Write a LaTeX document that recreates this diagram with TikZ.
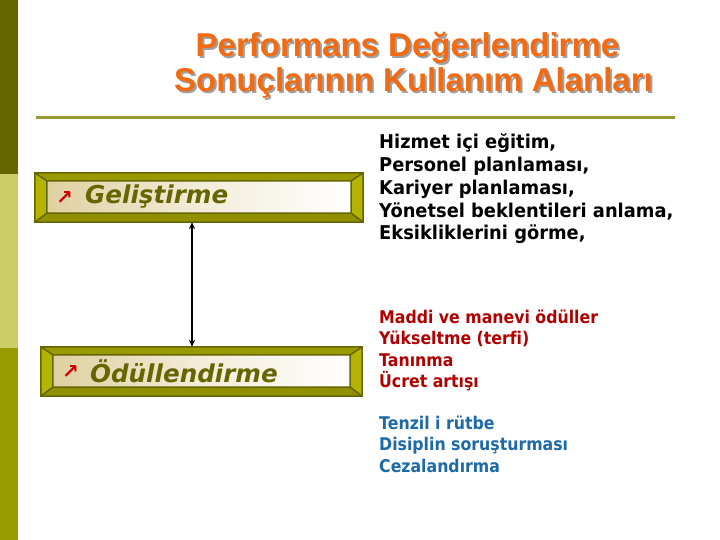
\documentclass[tikz,border=0pt]{standalone}
\usepackage{fontspec}
\usetikzlibrary{arrows.meta}
\setmainfont{DejaVu Sans}
\newfontfamily\titlefont{Liberation Sans}
\newfontfamily\vfont{DejaVu Sans}
\newfontfamily\blackfont{DejaVu Sans}[FakeStretch=0.94, Ligatures=NoCommon]
\newfontfamily\colfont{DejaVu Sans}[FakeStretch=0.9, Ligatures=NoCommon]
\definecolor{olivedark}{HTML}{666600}
\definecolor{olivelight}{HTML}{CCCC66}
\definecolor{olivemid}{HTML}{999900}
\definecolor{rule}{HTML}{999933}
\definecolor{bevside}{HTML}{B3B300}
\definecolor{bevtop}{HTML}{999900}
\definecolor{bevbot}{HTML}{8F8F00}
\definecolor{tanface}{HTML}{E0D0A0}
\definecolor{titleorange}{HTML}{F26B12}
\definecolor{titleshadow}{HTML}{A0A0A0}
\definecolor{txtred}{HTML}{B00000}
\definecolor{txtblue}{HTML}{1E6AA8}
\newcommand\shadowed[1]{\makebox[0pt][l]{\hspace{2pt}\raisebox{-2pt}{\textcolor{titleshadow}{#1}}}#1}
\tikzset{
  frame/.style={inner sep=0pt},
  boxlabel/.style={anchor=west, inner sep=0pt, text=olivedark, font=\vfont\bfseries\itshape\fontsize{24.6}{30}\selectfont},
  arrowglyph/.style={anchor=west, inner sep=0pt, text=red!80!black, font=\vfont\bfseries\fontsize{20}{20}\selectfont},
  titletext/.style={anchor=base, inner sep=0pt, text=titleorange, font=\titlefont\bfseries\fontsize{33}{38}\selectfont},
  listtext/.style={anchor=base west, inner sep=0pt, align=left},
}
\newcommand\bevelframe[1]{%
  \coordinate (#1-o1) at (#1.north west);
  \coordinate (#1-o2) at (#1.north east);
  \coordinate (#1-o3) at (#1.south east);
  \coordinate (#1-o4) at (#1.south west);
  \coordinate (#1-i1) at ([shift={(12,8)}]#1.north west);
  \coordinate (#1-i2) at ([shift={(-12,8)}]#1.north east);
  \coordinate (#1-i3) at ([shift={(-12,-9)}]#1.south east);
  \coordinate (#1-i4) at ([shift={(12,-9)}]#1.south west);
  \fill[bevtop] (#1-o1) -- (#1-o2) -- (#1-i2) -- (#1-i1) -- cycle;
  \fill[bevbot] (#1-o4) -- (#1-o3) -- (#1-i3) -- (#1-i4) -- cycle;
  \fill[bevside] (#1-o1) -- (#1-i1) -- (#1-i4) -- (#1-o4) -- cycle;
  \fill[bevside] (#1-o2) -- (#1-i2) -- (#1-i3) -- (#1-o3) -- cycle;
  \shade[left color=tanface, right color=white, middle color=tanface!40!white] (#1-i1) rectangle (#1-i3);
  \draw[olivedark, line width=1.5pt, line join=miter]
     (#1-o1) -- (#1-o2) -- (#1-o3) -- (#1-o4) -- cycle
     (#1-i1) -- (#1-i2) -- (#1-i3) -- (#1-i4) -- cycle
     (#1-o1) -- (#1-i1) (#1-o2) -- (#1-i2) (#1-o3) -- (#1-i3) (#1-o4) -- (#1-i4);
}
\begin{document}
\begin{tikzpicture}[x=1pt, y=-1pt]
\useasboundingbox (0,0) rectangle (720,540);
\fill[white] (0,0) rectangle (720,540);
% left bar
\fill[olivedark] (0,0) rectangle (18,174);
\fill[olivelight] (0,174) rectangle (18,348);
\fill[olivemid] (0,348) rectangle (18,540);
% title
\node[titletext] (t1) at (407.5,57) {\shadowed{Performans Değerlendirme}};
\node[titletext] (t2) at (413.5,92) {\shadowed{Sonuçlarının Kullanım Alanları}};
% rule
\draw[rule, line width=3pt] (36,118) -- (675,118);
% boxes
\node[frame, minimum width=328pt, minimum height=49pt] (g) at (199,197.5) {};
\bevelframe{g}
\node[arrowglyph] (gm) at (56,198) {↗};
\node[boxlabel] (gl) at (85,197) {Geliştirme};
\node[frame, minimum width=321pt, minimum height=49pt] (o) at (201.5,371.5) {};
\bevelframe{o}
\node[arrowglyph] (om) at (62,372) {↗};
\node[boxlabel] (ol) at (90,371) {Ödüllendirme};
% arrow
\draw[black, line width=1.5pt, {Stealth[length=7pt,width=6pt]}-{Stealth[length=7pt,width=6pt]}]
  ([xshift=-7pt]g.south) -- ([xshift=-9.5pt]o.north);
% right texts (anchored at the baseline of the last line)
\node[listtext, font=\blackfont\bfseries\fontsize{19}{22.8}\selectfont, text=black] (dev) at (379,240)
 {Hizmet içi eğitim,\\Personel planlaması,\\Kariyer planlaması,\\Yönetsel beklentileri anlama,\\Eksikliklerini görme,};
\node[listtext, font=\colfont\bfseries\fontsize{17.5}{21.5}\selectfont, text=txtred] (rew) at (379,387.5)
 {Maddi ve manevi ödüller\\Yükseltme (terfi)\\Tanınma\\Ücret artışı};
\node[listtext, font=\colfont\bfseries\fontsize{17.5}{21.5}\selectfont, text=txtblue] (pun) at (379,472)
 {Tenzil i rütbe\\Disiplin soruşturması\\Cezalandırma};
\end{tikzpicture}
\end{document}
